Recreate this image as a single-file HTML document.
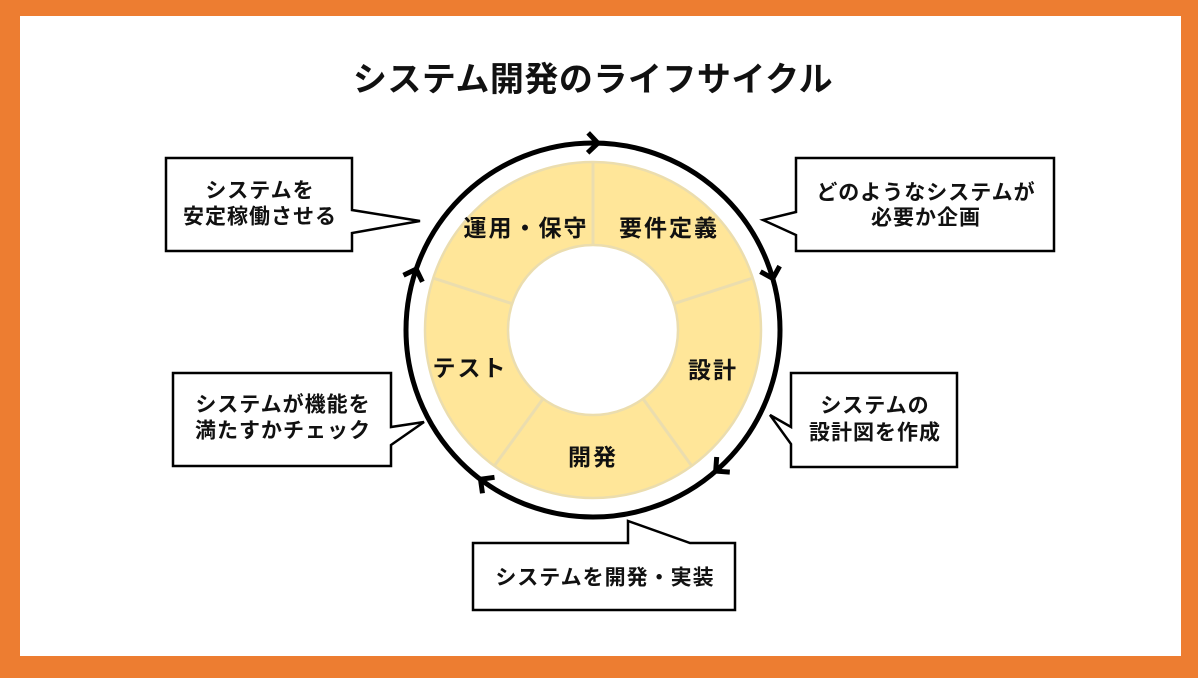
<!DOCTYPE html>
<html><head><meta charset="utf-8"><style>
html,body{margin:0;padding:0;}
body{width:1198px;height:678px;overflow:hidden;background:#ED7D31;}
svg{display:block;}
text{font-family:"Liberation Sans","Noto Sans CJK JP",sans-serif;fill:#111;}
</style></head><body>
<svg width="1198" height="678" viewBox="0 0 1198 678" xmlns="http://www.w3.org/2000/svg">
<rect x="0" y="0" width="1198" height="678" fill="#ED7D31"/>
<rect x="20" y="16" width="1161" height="640" fill="#FFFFFF"/>

<text x="593" y="80" font-size="34" font-weight="bold" text-anchor="middle" dominant-baseline="central" letter-spacing="0.5">システム開発のライフサイクル</text>

<!-- donut -->
<circle cx="593" cy="330" r="126.5" fill="none" stroke="#FFE699" stroke-width="83"/>
<circle cx="593" cy="330" r="168" fill="none" stroke="#EBDDAE" stroke-width="2.5"/>
<circle cx="593" cy="330" r="85" fill="none" stroke="#EBDDAE" stroke-width="2.5"/>
<g stroke="#EBDDAE" stroke-width="3">
<line x1="593" y1="245" x2="593" y2="162"/>
<line x1="673.8" y1="303.7" x2="752.8" y2="278.1"/>
<line x1="643.0" y1="398.8" x2="691.7" y2="465.9"/>
<line x1="543.0" y1="398.8" x2="494.3" y2="465.9"/>
<line x1="512.2" y1="303.7" x2="433.2" y2="278.1"/>
</g>

<!-- ring -->
<circle cx="593" cy="330" r="187" fill="none" stroke="#000" stroke-width="5"/>
<g fill="none" stroke="#000" stroke-width="5" stroke-linejoin="miter" stroke-linecap="butt">
<path d="M-10,-10 L0,0 L-10,10" transform="translate(597.9,143.1) rotate(1.5)"/>
<path d="M-10,-10 L0,0 L-10,10" transform="translate(772.8,278.5) rotate(74)"/>
<path d="M-10,-10 L0,0 L-10,10" transform="translate(715.7,471.1) rotate(139)"/>
<path d="M-10,-10 L0,0 L-10,10" transform="translate(480.5,479.3) rotate(217)"/>
<path d="M-10,-10 L0,0 L-10,10" transform="translate(416.2,269.1) rotate(-71)"/>
</g>

<!-- segment labels -->
<g font-size="23" font-weight="bold" text-anchor="middle" dominant-baseline="central" letter-spacing="2">
<text x="526" y="228">運用・保守</text>
<text x="669" y="228">要件定義</text>
<text x="713" y="370">設計</text>
<text x="470" y="368">テスト</text>
<text x="593" y="457">開発</text>
</g>

<!-- callouts -->
<g fill="#FFFFFF" stroke="#000" stroke-width="2.5" stroke-linejoin="miter">
<path d="M166,158 H352 V210 L420,221 L352,233 V251 H166 Z"/>
<path d="M173,373 H391 V427 L424,422 L391,445 V466 H173 Z"/>
<path d="M796,158 H1054 V251 H796 V235 L763,220 L796,212 Z"/>
<path d="M791,373 H957 V467 H791 V444 L770,415 L791,427 Z"/>
<path d="M473,543 H628 L628,521 L690,543 H735 V610 H473 Z"/>
</g>

<g font-size="21" font-weight="bold" text-anchor="middle" dominant-baseline="central" letter-spacing="1">
<text x="260" y="191">システムを</text>
<text x="260" y="217">安定稼働させる</text>
<text x="283" y="405">システムが機能を</text>
<text x="283" y="431">満たすかチェック</text>
<text x="926" y="193">どのようなシステムが</text>
<text x="926" y="218">必要か企画</text>
<text x="875" y="406">システムの</text>
<text x="875" y="433">設計図を作成</text>
<text x="605" y="578">システムを開発・実装</text>
</g>
</svg>
</body></html>
